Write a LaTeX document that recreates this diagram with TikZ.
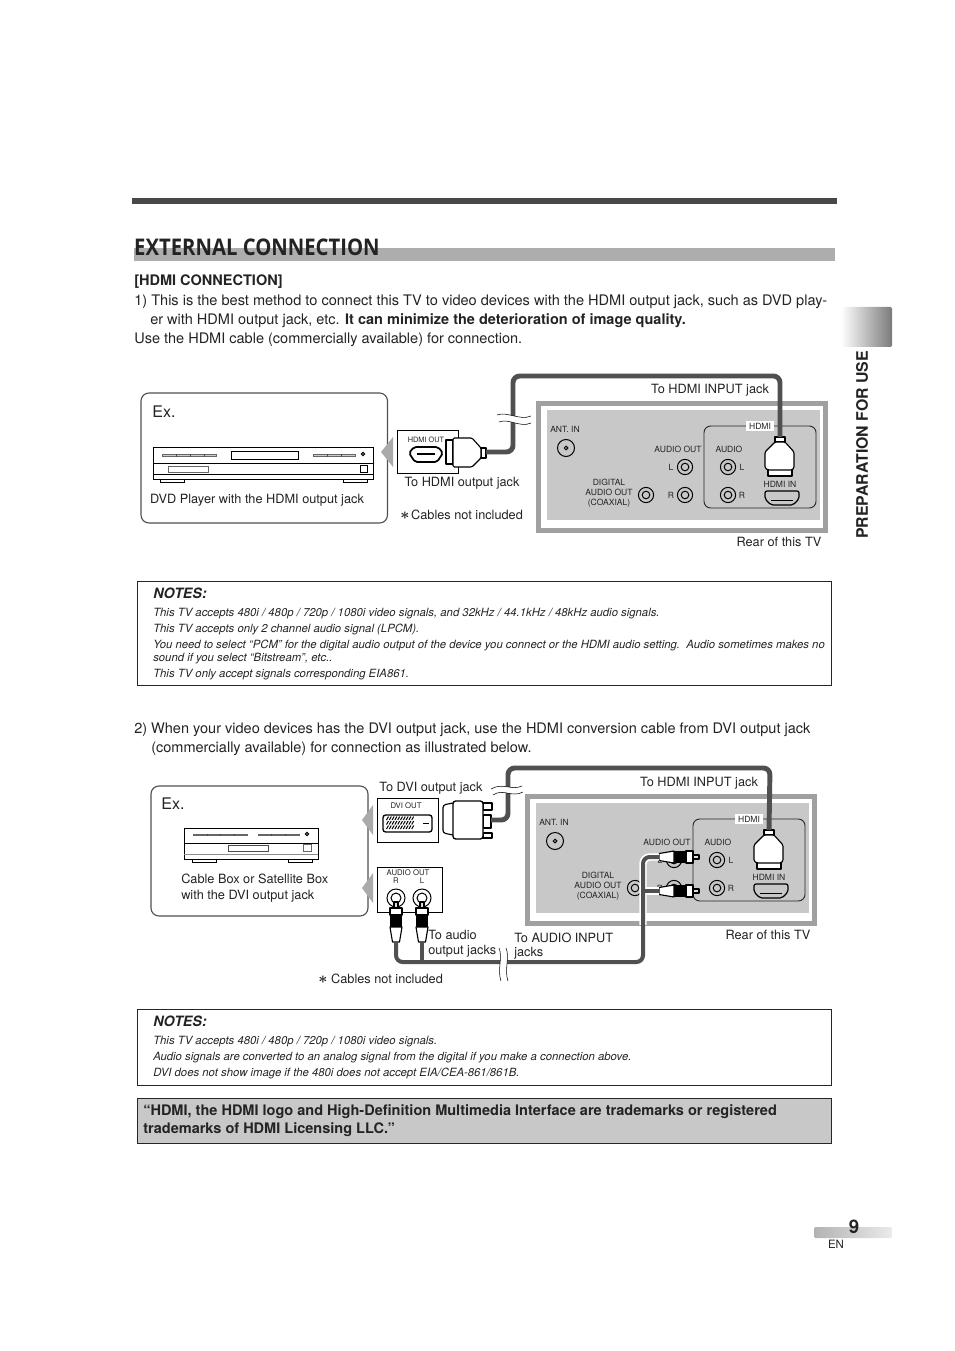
\documentclass[tikz,border=0pt]{standalone}
\usepackage{fontspec}
\setmainfont{TeX Gyre Heros}
\newfontfamily\titlefont{Open Sans}
\usetikzlibrary{positioning, shapes, arrows.meta, calc}
\definecolor{CableGray}{RGB}{80, 80, 80}
\definecolor{FrameGray}{RGB}{160, 160, 160}
\definecolor{PanelGray}{RGB}{200, 200, 200}
\definecolor{BandGray}{RGB}{173, 173, 173}
\definecolor{PointerGray}{RGB}{170, 170, 170}
\definecolor{InkGray}{RGB}{35, 35, 35}

\tikzset{
  bodytxt/.style={anchor=west, inner sep=0pt, yshift=-1.5pt, text=InkGray, font=\fontsize{10.89}{13}\selectfont},
  boldtxt/.style={bodytxt, font=\fontsize{10.89}{13}\selectfont\bfseries},
  lbl/.style={inner sep=0pt, yshift=-0.6pt, text=InkGray, font=\fontsize{9.55}{12}\selectfont, align=left},
  starlbl/.style={inner sep=0pt, yshift=-0.6pt, text=InkGray, font=\fontsize{13}{13}\selectfont\boldmath},
  tinylbl/.style={inner sep=0pt, text=InkGray, font=\fontsize{6.4}{7.4}\selectfont, align=center},
  jacklbl/.style={inner sep=0pt, text=InkGray, font=\fontsize{5.8}{7}\selectfont, align=center},
  notehead/.style={anchor=west, inner sep=0pt, yshift=-0.4pt, text=InkGray, font=\fontsize{10.7}{12}\selectfont\bfseries\itshape},
  notetxt/.style={anchor=west, inner sep=0pt, yshift=-1.1pt, text=InkGray, font=\fontsize{8.5}{10}\selectfont\itshape},
  cable/.style={draw=CableGray, line width=3.7pt, rounded corners=5pt},
  thincable/.style={draw=CableGray, line width=3pt, rounded corners=5pt},
  halo/.style={draw=white, line width=5.6pt, rounded corners=5pt},
  outline/.style={draw=black, line width=0.75pt},
  plugbody/.style={draw=black, fill=white, line width=0.85pt, line join=round},
  gapline/.style={draw=black, line width=0.4pt},
  pointer/.style={fill=PointerGray},
  exbox/.style={draw=CableGray, line width=0.85pt, fill=white, rounded corners=6pt},
  notebox/.style={draw=black!85, line width=0.7pt},
  rearpanel/.pic={
    % Frame and panel
    \fill[FrameGray] (536,401) rectangle (828,533);
    \fill[white] (541,406) rectangle (823,528);
    \fill[PanelGray] (547,410) rectangle (820,520);
    % Jacks
    \draw[outline] (566,448) circle (8.5);
    \draw[outline] (566,448) circle (1.8);
    \foreach \jx/\jy in {646/495, 685/467, 685/495, 728/467, 728/495} {
      \draw[outline] (\jx,\jy) circle (7.6);
      \draw[outline] (\jx,\jy) circle (3.8);
    }
    % HDMI group
    \draw[draw=black!85, line width=0.7pt, rounded corners=5pt] (704,426) rectangle (816,508);
    \node[tinylbl, fill=white, inner xsep=2.5pt, inner ysep=1.5pt] (-hdmi) at (760,426) {HDMI};
    \node[tinylbl] (-ant) at (565,429) {ANT. IN};
    \node[tinylbl] (-aout) at (678,449) {AUDIO OUT};
    \node[tinylbl] (-ain) at (729,449) {AUDIO};
    \node[tinylbl] (-dig) at (609,493.5) {DIGITAL\\AUDIO OUT\\(COAXIAL)};
    \node[tinylbl] (-lo) at (671,467) {L};
    \node[tinylbl] (-ro) at (671,495) {R};
    \node[tinylbl] (-li) at (742,467) {L};
    \node[tinylbl] (-ri) at (742,495) {R};
    \node[tinylbl] (-hin) at (780,484) {HDMI IN};
    \draw[outline, line width=0.9pt, rounded corners=1.5pt] (765,491) -- (799,491) -- (799,499) -- (793,505) -- (771,505) -- (765,499) -- cycle;
    \draw[outline] (771,500) -- (793,500);
    % HDMI plug
    \draw[plugbody] (768,469) rectangle (792,476);
    \draw[plugbody] (775,437) rectangle (785,442);
    \draw[plugbody, rounded corners=1pt] (775,442) -- (785,442) -- (794,452) -- (794,468) -- (792,470) -- (768,470) -- (765,468) -- (765,452) -- cycle;
    \coordinate (-plug) at (780,437);
    % Rear label
    \node[lbl] (-rear) at (779,541.5) {Rear of this TV};
    \node[lbl] (-input) at (710,389) {To HDMI INPUT jack};
  },
  rcaplug/.pic={
    \draw[plugbody, fill=PanelGray!60] (-2,0) rectangle (2,6);
    \draw[plugbody] (-6,6) rectangle (6,13);
    \fill[black] (-6,13) rectangle (6,25);
    \draw[plugbody] (-6,25) -- (6,25) -- (3.5,40) -- (-3.5,40) -- cycle;
    \coordinate (-end) at (0,40);
  },
}

\begin{document}
\begin{tikzpicture}[x=0.75pt, y=-0.75pt]
  \useasboundingbox (0,0) rectangle (954,1351);

  % Header
  \fill[CableGray!90!black] (132,198) rectangle (837,204);
  \fill[BandGray] (134,248) rectangle (835,261);
  \node[anchor=west, inner sep=0pt, text=InkGray, font=\fontsize{17.2}{20}\selectfont\titlefont\bfseries, xscale=0.884] (title) at (134,247) {EXTERNAL CONNECTION};

  % Side tab and page number
  \shade[left color=white, right color=black!52, rounded corners=1pt] (841,307) rectangle (892,347);
  \node[rotate=90, inner sep=0pt, text=InkGray, font=\fontsize{11.9}{14}\selectfont\bfseries] (side) at (862,445) {PREPARATION FOR USE};
  \shade[left color=black!30, right color=black!8, rounded corners=1pt] (814,1227) rectangle (892,1238);
  \node[inner sep=0pt, text=InkGray, font=\fontsize{14}{16}\selectfont\bfseries] (pagenum) at (854,1227) {9};
  \node[inner sep=0pt, text=InkGray, font=\fontsize{8.6}{10}\selectfont] (pagelang) at (836,1244) {EN};

  % Intro text
  \node[boldtxt] (hdmihead) at (134,280) {[HDMI CONNECTION]};
  \node[bodytxt, font=\fontsize{10.92}{13}\selectfont] (introa) at (134,300) {1) This is the best method to connect this TV to video devices with the HDMI output jack, such as DVD play-};
  \node[bodytxt] (introb) at (150,319) {er with HDMI output jack, etc. \textbf{It can minimize the deterioration of image quality.}};
  \node[bodytxt] (introc) at (134,338) {Use the HDMI cable (commercially available) for connection.};

  % First example
  \pic (tva) at (0,0) {rearpanel};
  \draw[exbox] (141,393) rectangle (387.5,523);
  \node[inner sep=0pt, text=InkGray, font=\fontsize{12}{14}\selectfont] (exa) at (164,412) {Ex.};
  \draw[outline] (153,447) rectangle (373,479);
  \draw[outline] (153,463) -- (373,463);
  \draw[outline] (153,474) -- (373,474);
  \draw[outline] (160,479) rectangle (184,482);
  \draw[outline] (343,479) rectangle (367,482);
  \draw[outline, draw=black!60, fill=black!20] (162,454) rectangle (216,456);
  \draw[outline, draw=black!60, fill=black!20] (313,454) rectangle (355,456);
  \foreach \tx in {176,190,204,327,341} {
    \draw[black!70, line width=0.5pt] (\tx,453.5) -- (\tx,456.5);
  }
  \draw[outline] (231,451) rectangle (298,459);
  \draw[outline] (363,454) circle (1.6);
  \draw[outline, draw=black!60] (168,466) rectangle (208,472);
  \draw[outline] (360,465) rectangle (367,472);
  \node[lbl] (dvdname) at (257,499) {DVD Player with the HDMI output jack};
  \fill[pointer] (381,452) -- (393,437) -- (393,467) -- cycle;

  % HDMI output jack
  \draw[outline, line width=0.7pt] (397,430) rectangle (458,473);
  \node[jacklbl, font=\fontsize{5.5}{7}\selectfont] (hdmiout) at (426,440) {HDMI OUT};
  \draw[outline, line width=1.3pt, rounded corners=1.5pt] (414,447) -- (438,447) -- (443,453) -- (437,462) -- (415,462) -- (409,453) -- cycle;
  \draw[outline, line width=1.5pt] (417,454) -- (435,454);
  \draw[plugbody] (446,440) rectangle (453,464);
  \draw[plugbody] (481,448) rectangle (486,458);
  \draw[plugbody, rounded corners=1pt] (453,438) -- (472,438) -- (481,448) -- (481,458) -- (472,467) -- (453,467) -- cycle;
  \coordinate (hdmitip) at (486,452);
  \node[lbl] (jackout) at (462,482) {To HDMI output jack};
  \node[starlbl] (staracable) at (405,515) {$\ast$};
  \node[lbl] (notinca) at (467,514) {Cables not included};

  % HDMI cable
  \draw[cable] (hdmitip) -- (513,452) -- (513,376) -- (780,376) -- (tva-plug);
  \fill[white] (497,415) .. controls (507,411) and (520,421) .. (531,416) -- (531,423) .. controls (520,428) and (509,418) .. (499,422) -- cycle;
  \draw[gapline] (497,415) .. controls (507,411) and (520,421) .. (531,416);
  \draw[gapline] (499,422) .. controls (509,418) and (520,428) .. (531,423);

  % First notes
  \draw[notebox] (137,581) rectangle (831.5,685.5);
  \node[notehead] (notesa) at (153,593) {NOTES:};
  \node[notetxt] (noteaa) at (153,612) {This TV accepts 480i / 480p / 720p / 1080i video signals, and 32kHz / 44.1kHz / 48kHz audio signals.};
  \node[notetxt] (noteab) at (153,628) {This TV accepts only 2 channel audio signal (LPCM).};
  \node[notetxt] (noteac) at (153,644) {You need to select “PCM” for the digital audio output of the device you connect or the HDMI audio setting.\ \ Audio sometimes makes no};
  \node[notetxt] (notead) at (153,657) {sound if you select “Bitstream”, etc..};
  \node[notetxt] (noteae) at (153,673) {This TV only accept signals corresponding EIA861.};

  % Second paragraph
  \node[bodytxt] (parta) at (134,728) {2) When your video devices has the DVI output jack, use the HDMI conversion cable from DVI output jack};
  \node[bodytxt] (partb) at (151,747) {(commercially available) for connection as illustrated below.};

  % Second example
  \pic (tvb) at (-11,393) {rearpanel};
  \draw[exbox] (151,786) rectangle (368,916);
  \node[inner sep=0pt, text=InkGray, font=\fontsize{12}{14}\selectfont] (exb) at (173,804) {Ex.};
  \draw[outline] (184,828) rectangle (318,859);
  \draw[outline] (184,843) -- (318,843);
  \draw[outline, draw=black!45] (184,854) -- (318,854);
  \draw[outline] (192,859) rectangle (216,862);
  \draw[outline] (288,859) rectangle (312,862);
  \draw[outline, draw=black!60, fill=black!20] (193,834) rectangle (247,835.5);
  \draw[outline, draw=black!60, fill=black!20] (258,834) rectangle (299,835.5);
  \foreach \tx in {207,220,234,271,285} {
    \draw[black!70, line width=0.5pt] (\tx,833.5) -- (\tx,836);
  }
  \draw[outline] (307,834) circle (1.6);
  \draw[outline, draw=black!70] (228,845) rectangle (268,851);
  \draw[outline, draw=black!60] (303,844) rectangle (311,851);
  \node[lbl, anchor=west] (boxnamea) at (181,878.5) {Cable Box or Satellite Box};
  \node[lbl, anchor=west] (boxnameb) at (181,895) {with the DVI output jack};
  \fill[pointer] (362,820) -- (373,805) -- (373,835) -- cycle;
  \fill[pointer] (362,888) -- (373,873) -- (373,903) -- cycle;

  % DVI output jack
  \draw[outline, line width=0.7pt] (377,798) rectangle (438,842);
  \node[jacklbl] (dviout) at (406,806) {DVI OUT};
  \draw[outline, line width=1pt, rounded corners=2pt] (383,815) rectangle (432,832);
  \foreach \hx in {0,...,9} {
    \foreach \hy in {818,822.5,827} {
      \draw[black, line width=0.75pt] ($(386.5,\hy+2)+(\hx*2.8,0)$) -- ++(2,-3.5);
    }
  }
  \draw[outline] (423,823) -- (429,823);
  \node[lbl] (jackdvi) at (431,787) {To DVI output jack};
  \draw[plugbody, line width=1pt] (483,803) rectangle (492,810);
  \draw[plugbody, line width=1pt] (483,833) rectangle (492,838);
  \draw[plugbody, line width=1pt] (483,815) rectangle (491,828);
  \draw[plugbody, rounded corners=2pt] (453,803) -- (443,805) -- (443,833) -- (453,835);
  \draw[plugbody, line width=1pt, rounded corners=2pt] (453,801) rectangle (483,839);
  \coordinate (dvitip) at (491,820);

  % Audio output jacks
  \draw[outline, line width=0.7pt] (377,867) rectangle (442,912);
  \node[jacklbl] (audioout) at (408,873) {AUDIO OUT};
  \node[jacklbl] (audior) at (396,881) {R};
  \node[jacklbl] (audiol) at (422,881) {L};
  \draw[outline] (396,898) circle (9);
  \draw[outline] (396,898) circle (5);
  \draw[outline] (422,898) circle (9);
  \draw[outline] (422,898) circle (5);
  \pic (rcar) at (396,902) {rcaplug};
  \pic (rcal) at (422,902) {rcaplug};
  \node[lbl, anchor=west] (jackaudioa) at (428,934.5) {To audio};
  \node[lbl, anchor=west] (jackaudiob) at (428,950) {output jacks};
  \node[lbl, anchor=west] (inaudioa) at (514,937) {To AUDIO INPUT};
  \node[lbl, anchor=west] (inaudiob) at (514,952) {jacks};
  \node[starlbl] (starcableb) at (323,979) {$\ast$};
  \node[lbl] (notincb) at (387,978) {Cables not included};

  % DVI to HDMI cable
  \draw[cable] (dvitip) -- (508,820) -- (508,768) -- (770,768) -- (tvb-plug);
  \fill[white] (491,789) .. controls (503,782) and (511,791) .. (522,786) -- (523,792) .. controls (512,798) and (503,788) .. (493,795) -- cycle;
  \draw[gapline] (491,789) .. controls (503,782) and (511,791) .. (522,786);
  \draw[gapline] (493,795) .. controls (503,788) and (512,798) .. (523,792);

  % Audio cable
  \pic[rotate=-90] (rcat) at (699,857) {rcaplug};
  \pic[rotate=-90] (rcab) at (699,891) {rcaplug};
  \draw[halo] (643,925) -- (643,857) -- (rcat-end);
  \draw[halo] (643,891) -- (rcab-end);
  \draw[thincable] (rcar-end) -- (396,962) -- (643,962) -- (643,857) -- (rcat-end);
  \draw[thincable] (rcal-end) -- (422,962);
  \draw[thincable, rounded corners=0pt] (643,891) -- (rcab-end);
  \fill[white] (499,948) .. controls (503,957) and (497,970) .. (501,981) -- (508,981) .. controls (504,970) and (510,957) .. (506,948) -- cycle;
  \draw[gapline] (499,948) .. controls (503,957) and (497,970) .. (501,981);
  \draw[gapline] (506,948) .. controls (510,957) and (504,970) .. (508,981);

  % Second notes
  \draw[notebox] (137,1009) rectangle (831.5,1085.5);
  \node[notehead] (notesb) at (153,1021) {NOTES:};
  \node[notetxt] (noteba) at (153,1040) {This TV accepts 480i / 480p / 720p / 1080i video signals.};
  \node[notetxt] (notebb) at (153,1056) {Audio signals are converted to an analog signal from the digital if you make a connection above.};
  \node[notetxt] (notebc) at (153,1072) {DVI does not show image if the 480i does not accept EIA/CEA-861/861B.};

  % Trademark box
  \draw[notebox, fill=PanelGray] (137,1098) rectangle (831.5,1143.5);
  \node[boldtxt] (marka) at (143,1110) {“HDMI, the HDMI logo and High-Definition Multimedia Interface are trademarks or registered};
  \node[boldtxt] (markb) at (143,1128) {trademarks of HDMI Licensing LLC.”};
\end{tikzpicture}
\end{document}
